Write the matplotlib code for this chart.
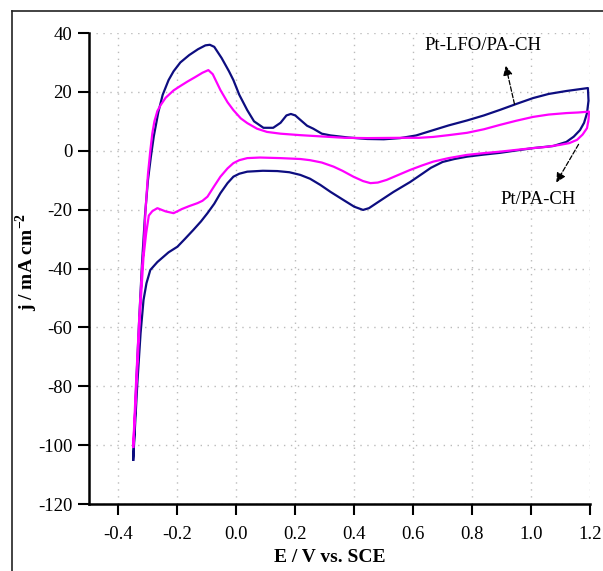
import numpy as np
import matplotlib
matplotlib.use("Agg")
import matplotlib.pyplot as plt
from matplotlib.lines import Line2D

plt.rcParams['font.family'] = ['Liberation Serif', 'DejaVu Serif']
plt.rcParams['mathtext.fontset'] = 'custom'
plt.rcParams['mathtext.rm'] = 'Liberation Serif'
plt.rcParams['mathtext.bf'] = 'Liberation Serif:bold'
plt.rcParams['axes.unicode_minus'] = False

# Pt-LFO/PA-CH (navy), anodic then cathodic scan
lfo_E = [-0.350, -0.340, -0.330, -0.320, -0.310, -0.300, -0.290, -0.280, -0.265, -0.250,
         -0.230, -0.213, -0.190, -0.160, -0.130, -0.105, -0.090, -0.075, -0.050, -0.025,
         -0.010, 0.010, 0.037, 0.060, 0.092, 0.125, 0.150, 0.170, 0.185, 0.200,
         0.217, 0.240, 0.261, 0.290, 0.320, 0.380, 0.444, 0.500, 0.556, 0.610,
         0.668, 0.720, 0.783, 0.840, 0.895, 0.950, 1.007, 1.060, 1.120, 1.193,
         1.195, 1.190, 1.180, 1.166, 1.145, 1.120, 1.075, 1.007, 0.950, 0.895,
         0.840, 0.783, 0.740, 0.700, 0.660, 0.634, 0.590, 0.533, 0.480, 0.450,
         0.430, 0.400, 0.363, 0.320, 0.285, 0.250, 0.217, 0.180, 0.139, 0.090,
         0.037, 0.010, -0.010, -0.030, -0.054, -0.075, -0.098, -0.120, -0.146, -0.175,
         -0.200, -0.230, -0.268, -0.292, -0.305, -0.315, -0.325, -0.336, -0.343, -0.350]
lfo_j = [-105, -80, -58, -38, -22, -10, -2, 5, 13, 19,
         24, 27, 30, 32.5, 34.5, 35.8, 36, 35.3, 31.5, 27,
         24, 19, 13.8, 10, 7.8, 7.8, 9.5, 12, 12.5, 12,
         10.5, 8.5, 7.5, 5.8, 5.2, 4.5, 4, 3.9, 4.3, 5.2,
         7, 8.6, 10.3, 12, 13.9, 15.9, 17.9, 19.3, 20.3, 21.3,
         17, 12.8, 9.5, 7, 4.8, 3, 1.6, 0.9, 0.1, -0.7,
         -1.3, -2, -2.8, -3.8, -5.8, -7.6, -10.6, -14, -17.5, -19.5,
         -20.1, -19, -16.7, -14, -11.6, -9.5, -8.2, -7.3, -6.9, -6.8,
         -7.1, -7.8, -8.8, -11, -14.4, -18, -21.2, -24, -26.9, -30,
         -32.6, -34.5, -37.8, -40.5, -45, -50.7, -62, -79, -92, -105]

# Pt/PA-CH (magenta)
pa_E = [-0.350, -0.340, -0.330, -0.320, -0.315, -0.308, -0.300, -0.292, -0.285, -0.278,
        -0.268, -0.257, -0.240, -0.213, -0.190, -0.166, -0.140, -0.115, -0.095, -0.080,
        -0.054, -0.030, -0.010, 0.015, 0.037, 0.070, 0.104, 0.150, 0.217, 0.300,
        0.367, 0.444, 0.556, 0.620, 0.668, 0.720, 0.783, 0.840, 0.895, 0.950,
        1.007, 1.060, 1.120, 1.160, 1.197,
        1.195, 1.190, 1.175, 1.156, 1.130, 1.098, 1.050, 1.007, 0.950, 0.895,
        0.840, 0.783, 0.720, 0.668, 0.630, 0.590, 0.550, 0.510, 0.480, 0.455,
        0.430, 0.397, 0.360, 0.330, 0.290, 0.250, 0.217, 0.150, 0.080, 0.037,
        0.010, -0.010, -0.030, -0.054, -0.075, -0.098, -0.115, -0.132, -0.160, -0.185,
        -0.213, -0.240, -0.268, -0.285, -0.297, -0.306, -0.315, -0.325, -0.335, -0.343,
        -0.350]
pa_j = [-100.6, -78, -58, -40, -33.7, -20, -8, 0, 6, 10,
        13.5, 15.5, 18, 20.5, 22, 23.5, 25, 26.5, 27.4, 26,
        20.6, 16.5, 13.8, 11, 9.4, 7.5, 6.4, 5.8, 5.3, 4.8,
        4.4, 4.3, 4.4, 4.4, 4.7, 5.3, 6.1, 7.3, 8.8, 10.2,
        11.5, 12.3, 12.8, 13, 13.3,
        10.5, 7.7, 5.5, 3.7, 2.6, 2, 1.3, 0.9, 0.3, -0.3,
        -0.8, -1.4, -2.5, -3.7, -5, -6.5, -8.2, -9.9, -10.8, -11,
        -10.3, -8.8, -6.8, -5.4, -4, -3.2, -2.8, -2.5, -2.3, -2.5,
        -3.2, -4.2, -6, -8.8, -12, -15.6, -17, -17.8, -18.8, -19.8,
        -21.2, -20.6, -19.5, -20.5, -22, -28, -36, -52, -72, -88,
        -100.6]

fig = plt.figure(figsize=(6.03, 5.71), dpi=100)
ax = fig.add_axes([0.1476, 0.1173, 0.8308, 0.8249])

# thin frame around the figure (left and top edges only visible)
fig.add_artist(Line2D([0.0199, 0.0199], [0, 0.9807], transform=fig.transFigure, color='#222222', lw=1.2))
fig.add_artist(Line2D([0.0199, 1.0], [0.9807, 0.9807], transform=fig.transFigure, color='#222222', lw=1.2))

ax.plot(lfo_E, lfo_j, color='#0d0d80', lw=1.6, zorder=3)
ax.plot(pa_E, pa_j, color='#ff00ff', lw=1.6, zorder=4)

ax.set_xlim(-0.5, 1.2)
ax.set_ylim(-120, 40)
ax.set_xticks(np.arange(-0.4, 1.21, 0.2))
ax.set_yticks(np.arange(-120, 41, 20))
ax.set_xticklabels(['%.1f' % v for v in np.arange(-0.4, 1.21, 0.2)])

ax.grid(True, linestyle=(0, (1, 4)), color='#bbbbbb', lw=1.0)
ax.set_axisbelow(True)
for s in ['top', 'right']:
    ax.spines[s].set_visible(False)
for s in ['left', 'bottom']:
    ax.spines[s].set_linewidth(1.8)
ax.tick_params(direction='out', length=8, width=1.5, labelsize=13.5, pad=4)
ax.tick_params(axis='x', pad=8)

ax.set_xlabel('E / V vs. SCE', fontsize=14, fontweight='bold')
ax.set_ylabel(r'j / mA cm$^{\mathbf{-2}}$', fontsize=14, fontweight='bold')
ax.xaxis.set_label_coords(0.481, -0.0955)
ax.yaxis.set_label_coords(-0.097, 0.514)

ax.annotate('', xy=(0.912, 29.8), xytext=(0.946, 14.9),
            arrowprops=dict(arrowstyle='-|>', color='black', lw=0.9, ls='--', mutation_scale=14))
ax.annotate('', xy=(1.081, -11.6), xytext=(1.166, 3.0),
            arrowprops=dict(arrowstyle='-|>', color='black', lw=0.9, ls='--', mutation_scale=14))
ax.text(0.837, 35.9, 'Pt-LFO/PA-CH', fontsize=13.5, ha='center', va='center')
ax.text(1.024, -16.7, 'Pt/PA-CH', fontsize=13.5, ha='center', va='center')

fig.savefig('out.png', dpi=100)
